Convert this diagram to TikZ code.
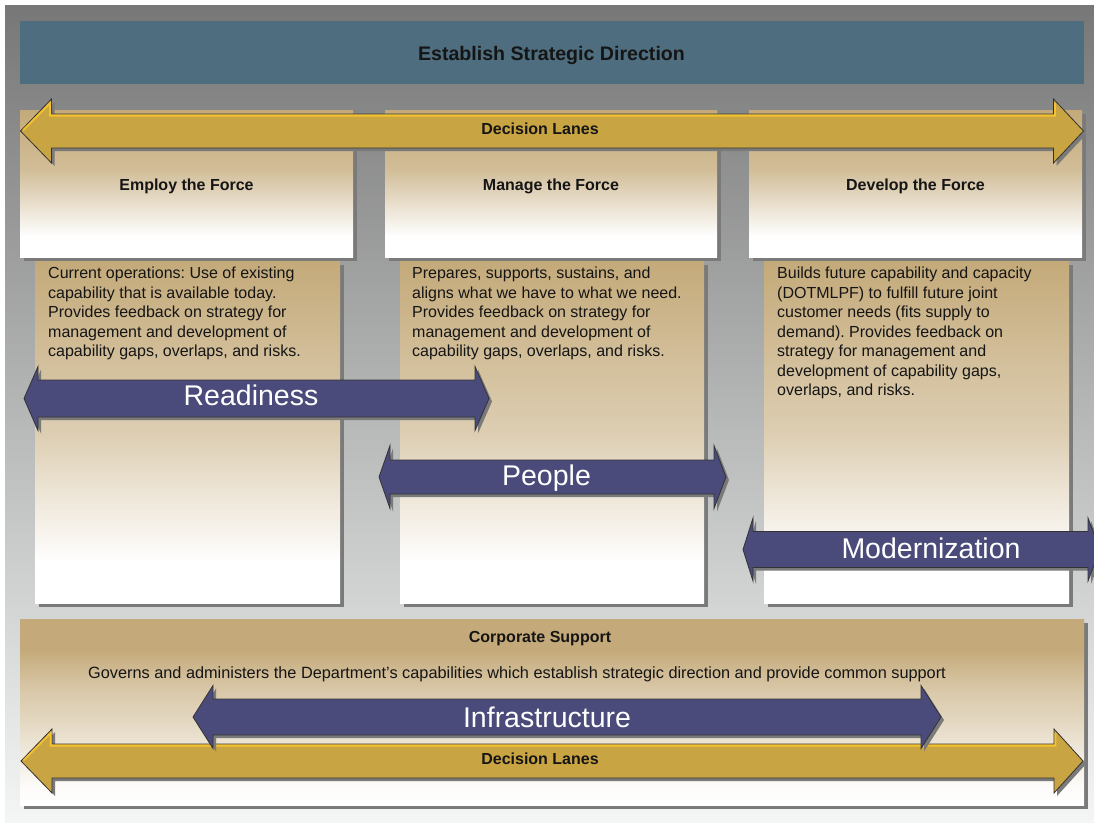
\documentclass[tikz,border=0pt]{standalone}
\usepackage{fontspec}
\setmainfont{Liberation Sans}
\usetikzlibrary{shadows}
\frenchspacing

\definecolor{tanc}{HTML}{C4AA7A}
\definecolor{bannerc}{HTML}{4E6D7E}
\definecolor{goldc}{HTML}{C9A443}
\definecolor{goldhl}{HTML}{F4C22F}
\definecolor{navyc}{HTML}{4B4B7B}
\definecolor{shadowc}{HTML}{7A7A7A}
\definecolor{edgec}{HTML}{333333}
\definecolor{bgtop}{HTML}{777777}
\definecolor{bgmid}{HTML}{B8B8B8}
\definecolor{bgbot}{HTML}{F4F6F6}
\definecolor{txtc}{HTML}{151515}

\pgfdeclareverticalshading{headshade}{100bp}{color(0bp)=(white); color(25bp)=(white); color(32bp)=(white); color(55bp)=(tanc!78!white); color(75bp)=(tanc); color(100bp)=(tanc)}
\pgfdeclareverticalshading{bodyshade}{100bp}{color(0bp)=(white); color(25bp)=(white); color(31bp)=(white); color(50bp)=(tanc!58!white); color(75bp)=(tanc); color(100bp)=(tanc)}
\pgfdeclareverticalshading{corpshade}{100bp}{color(0bp)=(white); color(25bp)=(white); color(30bp)=(white!96!tanc); color(47bp)=(tanc!45!white); color(55bp)=(tanc!62!white); color(67bp)=(tanc); color(100bp)=(tanc)}

% #1 style, #2 x1, #3 x2, #4 yc, #5 shaft half, #6 head half, #7 left head length, #8 right head length
\newcommand{\dblarr}[8]{%
  \path[#1] (#2,#4) -- ({#2+#7},{#4-#6}) -- ({#2+#7},{#4-#5}) -- ({#3-#8},{#4-#5})
    -- ({#3-#8},{#4-#6}) -- (#3,#4) -- ({#3-#8},{#4+#6}) -- ({#3-#8},{#4+#5})
    -- ({#2+#7},{#4+#5}) -- ({#2+#7},{#4+#6}) -- cycle;}
% gold highlight along upper edges
\newcommand{\goldhl}[8]{%
  \draw[goldhl, line width=1.8pt, line join=miter] ({#2+2.5},{#4-0.6}) -- ({#2+#7-1.4},{#4-#6+4.2}) -- ({#2+#7-1.4},{#4-#5+1.6})
    -- ({#3-#8+1.4},{#4-#5+1.6}) -- ({#3-#8+1.4},{#4-#6+4.2});}

\tikzset{
  boxshadow/.style={general shadow={fill=shadowc, shadow xshift=4pt, shadow yshift=-4pt}},
  headbox/.style={boxshadow, shading=headshade, inner sep=0pt, anchor=north west},
  bodybox/.style={boxshadow, shading=bodyshade, inner sep=0pt, anchor=north west},
  boldtxt/.style={font=\fontsize{16}{19}\selectfont\bfseries, text=txtc, inner sep=0pt, anchor=base},
  bodytxt/.style={font=\fontsize{16}{19.5}\selectfont, text=txtc, inner sep=0pt, anchor=north west, align=left},
  bigtxt/.style={font=\fontsize{28.5}{30}\selectfont, text=white, inner sep=0pt, anchor=base},
  goldarr/.style={fill=goldc, draw=edgec, line width=0.8pt},
  navyarr/.style={fill=navyc, draw=edgec, line width=0.8pt},
  arrshadow/.style={fill=shadowc, shift={(3,3)}}
}

\begin{document}
\begin{tikzpicture}[x=1pt, y=-1pt]
\useasboundingbox (0,0) rectangle (1094,822);
\clip (0,0) rectangle (1094,822);
\fill[white] (0,0) rectangle (1094,822);
\shade[top color=bgtop, middle color=bgmid, bottom color=bgbot] (5,5) rectangle (1094,822);

% banner
\fill[bannerc] (20,21) rectangle (1084,84);
\node[boldtxt, font=\fontsize{19.6}{22}\selectfont\bfseries] (title) at (551.5,60.5) {Establish Strategic Direction};

% header boxes
\node[headbox, minimum width=333pt, minimum height=147pt] (employbox) at (20,110) {};
\node[headbox, minimum width=332pt, minimum height=147pt] (managebox) at (385,110) {};
\node[headbox, minimum width=333pt, minimum height=147pt] (developbox) at (749,110) {};

% body boxes
\node[bodybox, minimum width=305pt, minimum height=342pt] (employbody) at (35,261) {};
\node[bodybox, minimum width=304pt, minimum height=342pt] (managebody) at (400,261) {};
\node[bodybox, minimum width=305pt, minimum height=342pt] (developbody) at (764,261) {};

% header texts
\node[boldtxt] (employtxt) at (186.5,190) {Employ the Force};
\node[boldtxt] (managetxt) at (551,190) {Manage the Force};
\node[boldtxt] (developtxt) at (915.5,190) {Develop the Force};

% body texts
\node[bodytxt] (employdesc) at (48,267) {Current operations: Use of existing\\capability that is available today.\\Provides feedback on strategy for\\management and development of\\capability gaps, overlaps, and risks.};
\node[bodytxt] (managedesc) at (412,267) {Prepares, supports, sustains, and\\aligns what we have to what we need.\\Provides feedback on strategy for\\management and development of\\capability gaps, overlaps, and risks.};
\node[bodytxt] (developdesc) at (777,267) {Builds future capability and capacity\\(DOTMLPF) to fulfill future joint\\customer needs (fits supply to\\demand). Provides feedback on\\strategy for management and\\development of capability gaps,\\overlaps, and risks.};

% top decision lanes arrow
\dblarr{arrshadow}{20.5}{1083.5}{131}{17}{32}{31}{30}
\dblarr{goldarr}{20.5}{1083.5}{131}{17}{32}{31}{30}
\goldhl{}{20.5}{1083.5}{131}{17}{32}{31}{30}
\node[boldtxt] (lanestop) at (540,134) {Decision Lanes};

% corporate support box
\node[boxshadow, shading=corpshade, inner sep=0pt, anchor=north west, minimum width=1064pt, minimum height=186pt] (corpbox) at (20,619) {};
\node[boldtxt] (corptitle) at (540,642) {Corporate Support};
\node[font=\fontsize{16.3}{19}\selectfont, text=txtc, inner sep=0pt, anchor=base west] (corpdesc) at (88,678) {Governs and administers the Department’s capabilities which establish strategic direction and provide common support};

% navy arrows
\dblarr{arrshadow}{24}{489}{398.5}{18.5}{32}{14}{14}
\dblarr{navyarr}{24}{489}{398.5}{18.5}{32}{14}{14}
\node[bigtxt] (readiness) at (251,405) {Readiness};

\dblarr{arrshadow}{379}{726}{477}{17}{31.5}{11}{12}
\dblarr{navyarr}{379}{726}{477}{17}{31.5}{11}{12}
\node[bigtxt] (people) at (546.5,485) {People};

\dblarr{arrshadow}{743}{1100}{549.5}{18}{31.5}{10}{12}
\dblarr{navyarr}{743}{1100}{549.5}{18}{31.5}{10}{12}
\node[bigtxt] (modern) at (931,558) {Modernization};

% bottom decision lanes arrow
\dblarr{arrshadow}{21}{1083}{761}{17}{32}{31}{29}
\dblarr{goldarr}{21}{1083}{761}{17}{32}{31}{29}
\goldhl{}{21}{1083}{761}{17}{32}{31}{29}
\node[boldtxt] (lanesbot) at (540,764) {Decision Lanes};

% infrastructure arrow
\dblarr{arrshadow}{193}{941}{717}{18}{31.5}{20}{20}
\dblarr{navyarr}{193}{941}{717}{18}{31.5}{20}{20}
\node[bigtxt] (infra) at (547,727) {Infrastructure};
\end{tikzpicture}
\end{document}
